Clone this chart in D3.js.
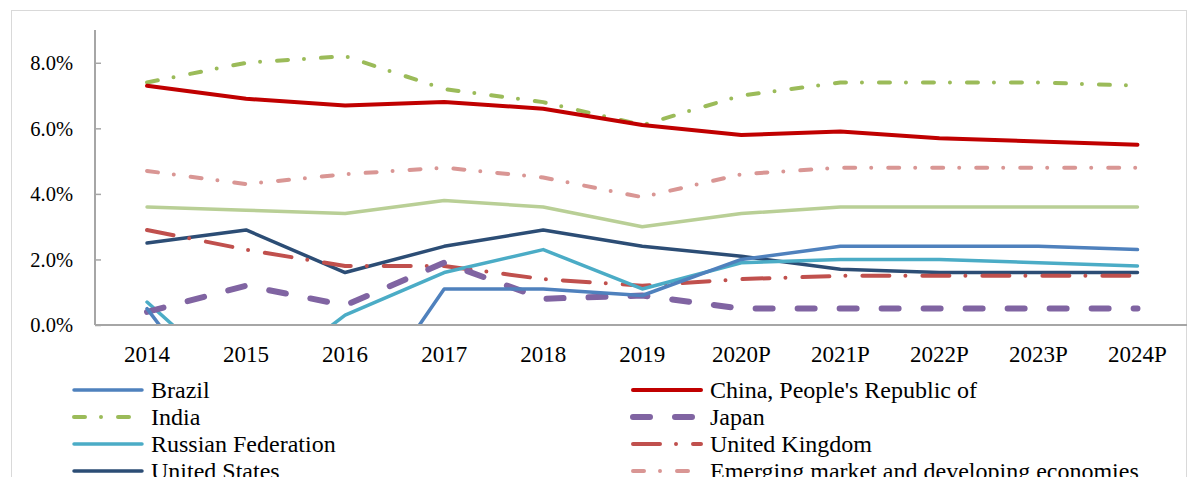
<!DOCTYPE html>
<html>
<head>
<meta charset="utf-8">
<script src="https://cdn.jsdelivr.net/npm/d3@7"></script>
<style>
  body { margin: 0; background: #fff; }
  svg text { font-family: "Liberation Serif", "Times New Roman", serif; fill: #000; }
</style>
</head>
<body>
<div id="chart"></div>
<script>
// data (real GDP growth, %)
var years = ["2014", "2015", "2016", "2017", "2018", "2019", "2020P", "2021P", "2022P", "2023P", "2024P"];
var brazil   = [0.5, -3.5, -3.3, 1.1, 1.1, 0.9, 2.0, 2.4, 2.4, 2.4, 2.3];
var china    = [7.3, 6.9, 6.7, 6.8, 6.6, 6.1, 5.8, 5.9, 5.7, 5.6, 5.5];
var india    = [7.4, 8.0, 8.2, 7.2, 6.8, 6.1, 7.0, 7.4, 7.4, 7.4, 7.3];
var japan    = [0.4, 1.2, 0.6, 1.9, 0.8, 0.9, 0.5, 0.5, 0.5, 0.5, 0.5];
var russia   = [0.7, -2.0, 0.3, 1.6, 2.3, 1.1, 1.9, 2.0, 2.0, 1.9, 1.8];
var uk       = [2.9, 2.3, 1.8, 1.8, 1.4, 1.2, 1.4, 1.5, 1.5, 1.5, 1.5];
var us       = [2.5, 2.9, 1.6, 2.4, 2.9, 2.4, 2.1, 1.7, 1.6, 1.6, 1.6];
var emerging = [4.7, 4.3, 4.6, 4.8, 4.5, 3.9, 4.6, 4.8, 4.8, 4.8, 4.8];
var world    = [3.6, 3.5, 3.4, 3.8, 3.6, 3.0, 3.4, 3.6, 3.6, 3.6, 3.6];
var yTicks = [0, 2, 4, 6, 8];

// series in legend order (left col, right col, ...)
var series = [
  {name: "Brazil", values: brazil, color: "#4F81BD", width: 3.5, dash: null},
  {name: "China, People's Republic of", values: china, color: "#C00000", width: 4, dash: null},
  {name: "India", values: india, color: "#9BBB59", width: 4, dash: "11,16,0,17"},
  {name: "Japan", values: japan, color: "#8064A2", width: 6, dash: "17,25"},
  {name: "Russian Federation", values: russia, color: "#4BACC6", width: 3.5, dash: null},
  {name: "United Kingdom", values: uk, color: "#C0504D", width: 4, dash: "27,16,0,17"},
  {name: "United States", values: us, color: "#2C4D75", width: 3.5, dash: null},
  {name: "Emerging market and developing economies", values: emerging, color: "#D99694", width: 4, dash: "11,16,0,17"},
  {name: "World", values: world, color: "#B9CF96", width: 3.5, dash: null}
];

var svgWidth = 1197;
var svgHeight = 477;

var svg = d3.select("#chart")
  .append("svg")
  .attr("width", svgWidth)
  .attr("height", svgHeight);

// outer chart frame
svg.append("rect")
  .attr("x", 11.5)
  .attr("y", 10.5)
  .attr("width", 1175)
  .attr("height", 500)
  .attr("fill", "#fff")
  .attr("stroke", "#D9D9D9")
  .attr("stroke-width", 1);

var plotLeft = 95, plotRight = 1187, plotTop = 30, plotBottom = 325;

var x = d3.scaleBand()
  .domain(years)
  .range([97.5, plotRight]);

var y = d3.scaleLinear()
  .domain([0, 9])
  .range([plotBottom, plotTop]);

svg.append("clipPath")
  .attr("id", "plotClip")
  .append("rect")
  .attr("x", plotLeft)
  .attr("y", 0)
  .attr("width", plotRight - plotLeft + 5)
  .attr("height", plotBottom + 1);

// y axis: ticks point inward, labels on the left
var yAxis = svg.append("g")
  .attr("transform", `translate(${plotLeft}, 0)`)
  .call(d3.axisRight(y).tickValues(yTicks).tickSize(6).tickFormat(""));
yAxis.select(".domain").remove();
yAxis.selectAll(".tick line").attr("stroke", "#A6A6A6").attr("stroke-width", 1.5);

svg.append("line")
  .attr("x1", plotLeft).attr("x2", plotLeft)
  .attr("y1", plotTop).attr("y2", plotBottom)
  .attr("stroke", "#A6A6A6")
  .attr("stroke-width", 2);

svg.selectAll(".ylab")
  .data(yTicks)
  .enter()
  .append("text")
  .attr("class", "ylab")
  .attr("x", 73)
  .attr("y", d => y(d))
  .attr("dy", "0.35em")
  .attr("text-anchor", "end")
  .style("font-family", "'Liberation Serif', 'Times New Roman', serif")
  .style("font-size", "20.5px")
  .text(d => d.toFixed(1) + "%");

// x axis
var xAxis = svg.append("g")
  .attr("transform", `translate(0, ${plotBottom})`)
  .call(d3.axisBottom(x).tickSize(0).tickPadding(21));
xAxis.select(".domain").remove();
xAxis.selectAll("text")
  .style("font-size", "23px")
  .style("font-family", "'Liberation Serif', 'Times New Roman', serif")
  .attr("fill", "#000");

// lines
var line = d3.line()
  .x((d, i) => x(years[i]) + x.bandwidth() / 2)
  .y(d => y(d));

var lineGroup = svg.append("g").attr("clip-path", "url(#plotClip)");

// draw in reverse so Brazil / China end up on top
series.slice().reverse().forEach(function(s) {
  lineGroup.append("path")
    .datum(s.values)
    .attr("d", line)
    .attr("fill", "none")
    .attr("stroke", s.color)
    .attr("stroke-width", s.width)
    .attr("stroke-linecap", "round")
    .attr("stroke-linejoin", "round")
    .attr("stroke-dasharray", s.dash);
});

svg.append("line")
  .attr("x1", plotLeft).attr("x2", plotRight)
  .attr("y1", plotBottom).attr("y2", plotBottom)
  .attr("stroke", "#A6A6A6")
  .attr("stroke-width", 2);

// legend, two columns
var legend = svg.selectAll(".legend")
  .data(series)
  .enter()
  .append("g")
  .attr("class", "legend")
  .attr("transform", (d, i) => `translate(${i % 2 === 0 ? 74 : 633}, ${390 + Math.floor(i / 2) * 27})`);

legend.append("line")
  .attr("x1", 0).attr("x2", 68)
  .attr("y1", 0).attr("y2", 0)
  .attr("stroke", d => d.color)
  .attr("stroke-width", d => d.width)
  .attr("stroke-linecap", "round")
  .attr("stroke-dasharray", d => d.dash);

legend.append("text")
  .attr("x", 77)
  .attr("y", 0)
  .attr("dy", "0.35em")
  .style("font-size", "24px")
  .text(d => d.name);
</script>
</body>
</html>
